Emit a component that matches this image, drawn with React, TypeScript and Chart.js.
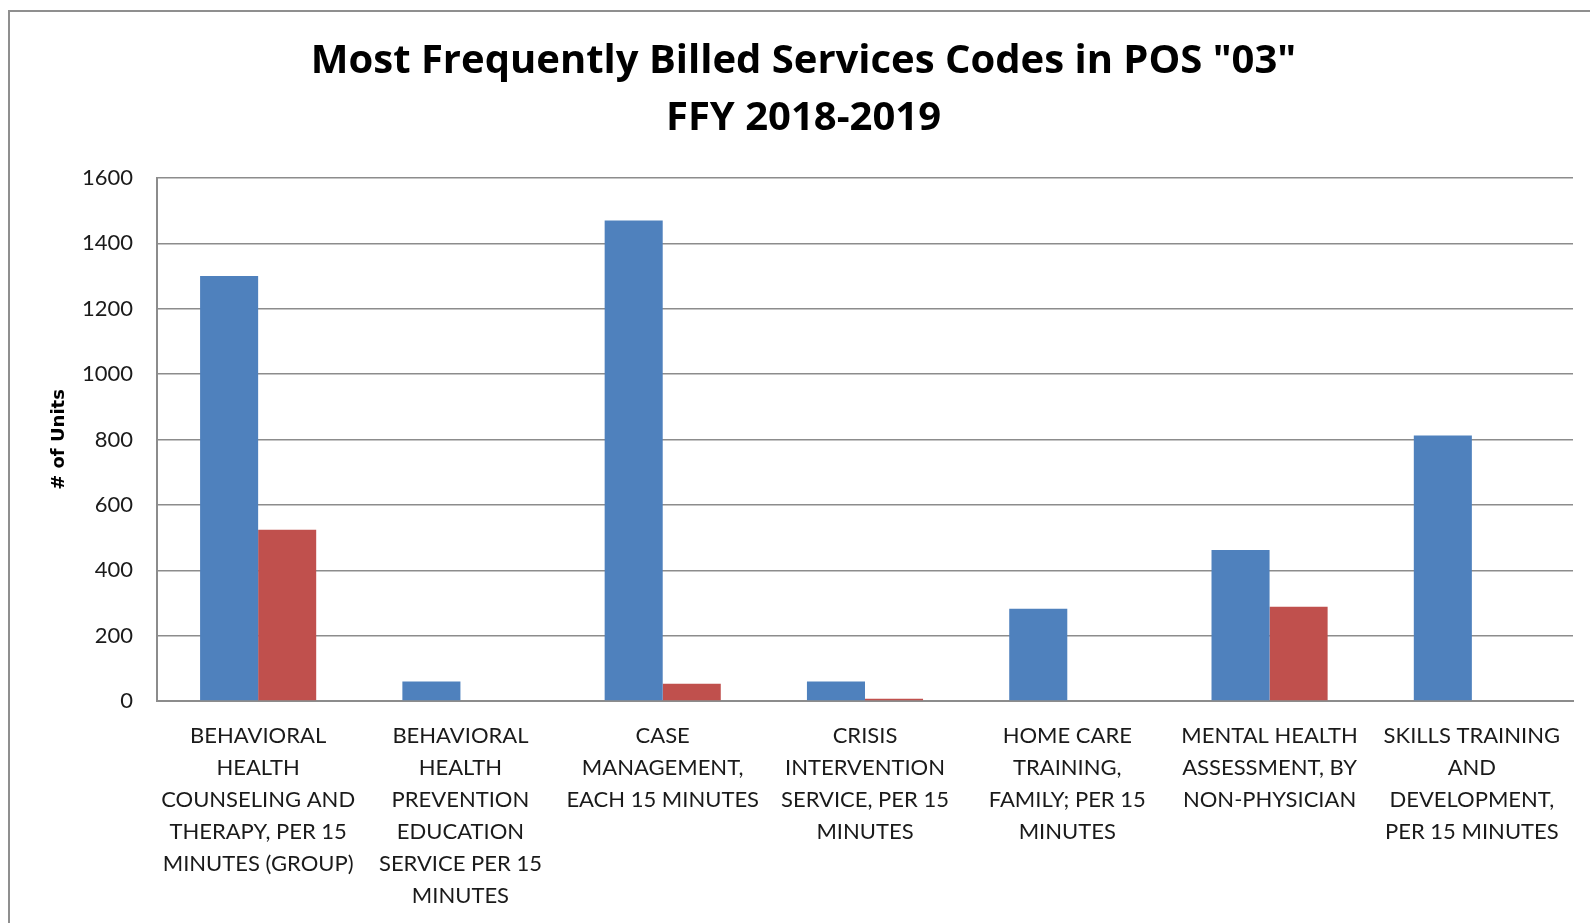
import React, { useEffect, useRef } from "react";
import { Chart, registerables } from "chart.js";

Chart.register(...registerables);

const titleLines = ['Most Frequently Billed Services Codes in POS "03"', "FFY 2018-2019"];
const yAxisTitle = "# of Units";

const categoryLines: string[][] = [
  ["BEHAVIORAL", "HEALTH", "COUNSELING AND", "THERAPY, PER 15", "MINUTES (GROUP)"],
  ["BEHAVIORAL", "HEALTH", "PREVENTION", "EDUCATION", "SERVICE PER 15", "MINUTES"],
  ["CASE", "MANAGEMENT,", "EACH 15 MINUTES"],
  ["CRISIS", "INTERVENTION", "SERVICE, PER 15", "MINUTES"],
  ["HOME CARE", "TRAINING,", "FAMILY; PER 15", "MINUTES"],
  ["MENTAL HEALTH", "ASSESSMENT, BY", "NON-PHYSICIAN"],
  ["SKILLS TRAINING", "AND", "DEVELOPMENT,", "PER 15 MINUTES"],
];

const series1Values = [1300, 60, 1470, 60, 282, 462, 812];
const series2Values = [524, 0, 53, 7, 0, 288, 0];

const yMin = 0;
const yMax = 1600;
const yStep = 200;

const FONT = "Lato, 'Open Sans', sans-serif";
const TITLE_FONT = "'Open Sans', Lato, sans-serif";

export default function App() {
  const canvasRef = useRef<HTMLCanvasElement | null>(null);

  useEffect(() => {
    const canvas = canvasRef.current;
    if (!canvas) return;
    const chart = new Chart(canvas, {
      type: "bar",
      data: {
        labels: categoryLines,
        datasets: [
          {
            label: "Series1",
            data: series1Values,
            backgroundColor: "#4F81BD",
            categoryPercentage: 0.574,
            barPercentage: 1,
          },
          {
            label: "Series2",
            data: series2Values,
            backgroundColor: "#C0504D",
            categoryPercentage: 0.574,
            barPercentage: 1,
          },
        ],
      },
      options: {
        animation: false,
        responsive: false,
        maintainAspectRatio: false,
        layout: { padding: { left: 34, right: 17, top: 0, bottom: 0 } },
        plugins: {
          legend: { display: false },
          tooltip: { enabled: false },
          title: {
            display: true,
            text: titleLines,
            color: "#000000",
            font: { family: TITLE_FONT, size: 40, weight: "bold", lineHeight: 1.425 },
            padding: { top: 33, bottom: 31 },
          },
        },
        scales: {
          x: {
            grid: { display: false, drawTicks: false },
            border: { display: true, color: "#8c8c8c", width: 2 },
            ticks: {
              color: "#1a1a1a",
              font: { family: FONT, size: 22, lineHeight: 1.45 },
              padding: 19,
              maxRotation: 0,
              minRotation: 0,
              autoSkip: false,
            },
            afterFit: (s: any) => {
              s.height = 222;
            },
          },
          y: {
            min: yMin,
            max: yMax,
            grid: { color: "#8c8c8c", lineWidth: 1.5, drawTicks: false },
            border: { display: true, color: "#8c8c8c", width: 2 },
            ticks: {
              stepSize: yStep,
              color: "#1a1a1a",
              font: { family: FONT, size: 22 },
              padding: 24,
              callback: (v: any) => String(v),
            },
            title: {
              display: true,
              text: yAxisTitle,
              color: "#000000",
              font: { family: "'DejaVu Sans', sans-serif", size: 18, weight: "bold" },
              padding: { top: 15, bottom: 0 },
            },
            afterFit: (s: any) => {
              s.width = 123;
            },
          },
        },
      },
    });
    return () => chart.destroy();
  }, []);

  return (
    <div
      style={{
        position: "absolute",
        left: 0,
        top: 0,
        width: 1590,
        height: 923,
        background: "#ffffff",
        overflow: "hidden",
      }}
    >
      <div
        style={{
          position: "absolute",
          left: 8,
          top: 10,
          width: 1600,
          height: 940,
          borderLeft: "2px solid #8f8f8f",
          borderTop: "2px solid #8f8f8f",
        }}
      />
      <canvas
        ref={canvasRef}
        width={1590}
        height={923}
        style={{ position: "absolute", left: 0, top: 0, width: 1590, height: 923 }}
      />
    </div>
  );
}
